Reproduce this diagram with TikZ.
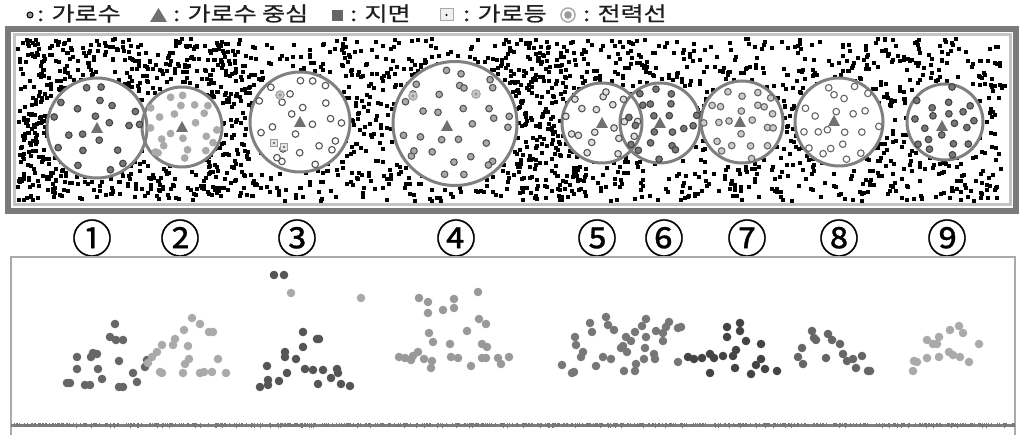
\documentclass[tikz,border=0pt]{standalone}
\usepackage{fontspec}
\newfontfamily\cjk[FakeBold=0.8]{Noto Sans CJK KR}
\newfontfamily\cjknum[FakeBold=0.7]{Noto Sans CJK KR}
\definecolor{cring}{HTML}{808080}
\definecolor{cframe}{HTML}{7A7A7A}
\definecolor{cframein}{HTML}{C4C4C4}
\definecolor{ctri}{HTML}{707070}
\definecolor{gA}{HTML}{444444}
\definecolor{gB}{HTML}{555555}
\definecolor{gC}{HTML}{666666}
\definecolor{gD}{HTML}{777777}
\definecolor{gE}{HTML}{999999}
\definecolor{gF}{HTML}{AAAAAA}
\definecolor{gG}{HTML}{CCCCCC}
\newcommand\ringpts[6]{%
  \pgfmathsetmacro\off{360*rnd}%
  \foreach \k in {1,...,#4}{%
    \pgfmathsetmacro\ang{\off+360*\k/#4+18*rand}%
    \pgfmathsetmacro\rr{#3+3.5*rand}%
    \filldraw[fill=#5,draw=#6,line width=1.1pt] ({#1+\rr*cos(\ang)},{#2+\rr*sin(\ang)}) circle (3.3);
  }%
}
\newcommand\treepts[8]{%
  \ringpts{#1}{#2}{0.3*#3}{#4}{#7}{#8}%
  \ringpts{#1}{#2}{0.58*#3}{#5}{#7}{#8}%
  \ringpts{#1}{#2}{0.85*#3}{#6}{#7}{#8}%
}
\newcommand\treetri[2]{\fill[ctri] (#1-6,#2+5) -- (#1+6,#2+5) -- (#1,#2-6) -- cycle;}
\begin{document}
\begin{tikzpicture}[x=1pt,y=-1pt,
  bigfill/.style={fill=white},
  bigring/.style={draw=cring,line width=3pt},
  legtext/.style={font=\cjk\fontsize{20}{24}\selectfont,anchor=base west,inner sep=0pt,text=black!88},
  numlab/.style={font=\cjknum\fontsize{40}{44}\selectfont,inner sep=0pt,anchor=center}]
\useasboundingbox (0,0) rectangle (1022,435);
\fill[white] (0,0) rectangle (1022,435);
% legend
\filldraw[fill=gE,draw=black,line width=1pt] (30,15) circle (3);
\node[legtext] (l1) at (37,21) {\scalebox{1.25}[1]{: 가로수}};
\fill[ctri] (150,22) -- (167,22) -- (158.5,8) -- cycle;
\node[legtext] (l2) at (173,21) {\scalebox{1.25}[1]{: 가로수 중심}};
\fill[gC] (332,10) rectangle (343,21);
\node[legtext] (l3) at (350,21) {\scalebox{1.25}[1]{: 지면}};
\filldraw[fill=black!6,draw=gF,line width=1pt] (440,9) rectangle (453,21);
\fill[black] (446.5,15) circle (1.2);
\node[legtext] (l4) at (463,21) {\scalebox{1.25}[1]{: 가로등}};
\draw[gF,line width=1.5pt] (568,15) circle (7);
\fill[gE] (568,15) circle (3.8);
\node[legtext] (l5) at (583,21) {\scalebox{1.25}[1]{: 전력선}};
% top frame
\draw[cframe,line width=6pt] (8,29) rectangle (1016,211);
\draw[cframein,line width=3pt] (14,35) rectangle (1010,204.5);
% ground squares
\pgfmathsetseed{11}
\foreach \i in {1,...,2300}{%
  \pgfmathsetmacro\px{18+988*rnd}%
  \pgfmathsetmacro\py{39+162*rnd}%
  \fill (\px-2,\py-2) rectangle ++(4,4);
}
\foreach \i in {1,...,400}{%
  \pgfmathsetmacro\px{18+240*rnd}%
  \pgfmathsetmacro\py{39+162*rnd}%
  \fill (\px-2,\py-2) rectangle ++(4,4);
}
\foreach \i in {1,...,150}{%
  \pgfmathsetmacro\px{500+90*rnd}%
  \pgfmathsetmacro\py{39+162*rnd}%
  \fill (\px-2,\py-2) rectangle ++(4,4);
}
% tree crowns (plan)
\foreach \c/\r in {{(97,128)}/50,{(182,127)}/40,{(300,122)}/50,{(455,123.5)}/62,{(602,123)}/40,{(660,123)}/40,{(742,122)}/41,{(839,122)}/44,{(945,122)}/38}
  \fill[bigfill] \c circle (\r);
\foreach \c/\r in {{(97,128)}/50,{(182,127)}/40,{(300,122)}/50,{(455,123.5)}/62,{(602,123)}/40,{(660,123)}/40,{(742,122)}/41,{(839,122)}/44,{(945,122)}/38}
  \draw[bigring] \c circle (\r);
\pgfmathsetseed{5}
\treepts{97}{128}{50}{4}{7}{10}{gD}{gA}
\treepts{182}{127}{40}{4}{8}{11}{gF}{gF}
\treepts{300}{122}{50}{4}{8}{12}{white}{gB}
\treepts{455}{123.5}{62}{5}{11}{16}{gF}{gB}
\treepts{602}{123}{40}{3}{7}{9}{black!12}{gB}
\treepts{660}{123}{40}{4}{7}{10}{gD}{gA}
\treepts{742}{122}{41}{4}{8}{11}{black!20}{gC}
\treepts{839}{122}{44}{4}{8}{10}{white}{gC}
\treepts{945}{122}{38}{4}{7}{9}{gD}{gA}
\treetri{97}{128}
\treetri{182}{127}
\treetri{300}{122}
\treetri{447}{126}
\treetri{602}{123}
\treetri{660}{123}
\treetri{740}{122}
\treetri{834}{121}
\treetri{942}{126}
% street lamps and power lines
\filldraw[fill=black!10,draw=gE,line width=0.8pt] (270.5,139.5) rectangle (277.5,146.5);
\fill (274,143) circle (0.9);
\filldraw[fill=black!10,draw=gE,line width=0.8pt] (280.5,143.5) rectangle (287.5,150.5);
\fill (284,147) circle (0.9);
\foreach \p in {(280,95),(413,96),(476,94)}{
  \filldraw[fill=gG,draw=gF,line width=1.3pt] \p circle (4.2);
  \fill[gE] \p circle (1.8);
}
% circled numbers
\node[numlab] (n1) at (92,238) {①};
\node[numlab] (n2) at (180,238) {②};
\node[numlab] (n3) at (297,238) {③};
\node[numlab] (n4) at (456,238) {④};
\node[numlab] (n5) at (597,238) {⑤};
\node[numlab] (n6) at (664,238) {⑥};
\node[numlab] (n7) at (747,238) {⑦};
\node[numlab] (n8) at (839,238) {⑧};
\node[numlab] (n9) at (947,238) {⑨};
% side view panel
\draw[gF,line width=1.3pt] (11,257) rectangle (1015,440);
\draw[cring,line width=3.5pt] (11,425.5) -- (1015,425.5);
\pgfmathsetseed{3}
\foreach \i in {1,...,900}{%
  \pgfmathsetmacro\px{12+1002*rnd}%
  \pgfmathsetmacro\h{1.5+1.5*rnd}%
  \draw[gD,line width=0.7pt] (\px,425.5-\h) -- (\px,425.5+\h*0.7);
}
% tree 1
\foreach \x/\y in {67/383,70/383,77/357,77/369,85/385,90/385,91/357,93/353,97/354,98/369,102/379,110/337,115/324,116/340,123/340,119/361,119/387,123/387,133/373,137/382,145/367,147/360}
  \fill[gC] (\x,\y) circle (4.3);
% tree 2
\foreach \x/\y in {148/363,152/357,157/352,162/345,160/372,162/373,173/345,175/339,184/330,188/346,192/318,200/324,209/332,213/332,189/359,185/364,183/373,200/373,204/372,212/372,218/359,226/373}
  \fill[gF] (\x,\y) circle (4.3);
% tree 3
\foreach \x/\y in {274/275,284/275,303/332,317/339,319/339,303/347,285/352,285/357,296/359,267/366,287/373,305/369,313/370,323/370,337/369,338/373,268/380,279/381,260/387,268/385,318/384,331/378,341/384,350/386}
  \fill[gB] (\x,\y) circle (4.3);
\foreach \x/\y in {291/293,361/298}
  \fill[gF] (\x,\y) circle (4.3);
% tree 4
\foreach \x/\y in {419/298,428/302,428/313,443/310,454/299,454/308,478/292,479/319,486/324,467/331,429/333,433/342,450/344,482/344,487/347,399/357,405/358,411/360,413/356,418/352,424/359,432/361,431/368,451/357,458/358,471/366,482/358,486/358,498/358,501/364,509/357}
  \fill[gE] (\x,\y) circle (4.3);
% tree 5
\foreach \x/\y in {562/365,572/373,574/372,575/337,576/345,581/357,583/352,590/323,592/332,596/366,603/357,606/317,608/325,611/359,614/330,621/348,623/346,626/337,627/352,631/341,624/371,635/332,636/364,635/371,642/326,646/319,646/337,645/348,644/359,654/354,655/359,656/331,663/333,663/341,666/327,669/322,678/328,681/327,678/362}
  \fill[gD] (\x,\y) circle (4.3);
% tree 6/7
\foreach \x/\y in {688/357,694/359,702/358,710/354,714/358,710/373,723/356,727/327,727/337,733/356,736/350,735/368,740/323,740/331,746/341,751/374,756/365,761/344,761/359,765/369,777/371}
  \fill[gA] (\x,\y) circle (4.3);
% tree 8
\foreach \x/\y in {798/357,802/348,803/364,812/331,814/338,816/340,826/358,828/334,832/340,840/344,843/354,847/361,853/359,856/368,862/356,868/371,870/371}
  \fill[gC] (\x,\y) circle (4.3);
% tree 9
\foreach \x/\y in {913/371,914/361,917/362,927/358,927/340,933/344,937/344,939/337,939/357,949/352,950/330,953/355,959/326,963/333,960/357,969/362,979/344}
  \fill[gF] (\x,\y) circle (4.3);
\end{tikzpicture}
\end{document}
